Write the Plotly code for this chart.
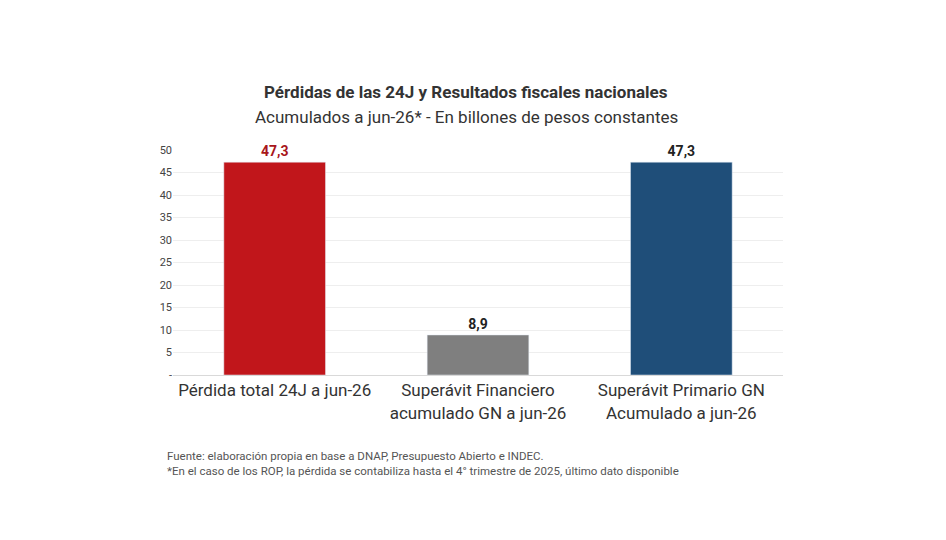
import plotly.graph_objects as go

categorias = ["Pérdida total 24J a jun-26",
              "Superávit Financiero<br>acumulado GN a jun-26",
              "Superávit Primario GN<br>Acumulado a jun-26"]
valores = [47.3, 8.9, 47.3]
etiquetas = ["<b>47,3</b>", "<b>8,9</b>", "<b>47,3</b>"]
colores = ["#C1161B", "#7F7F7F", "#1F4E79"]
colores_texto = ["#A8161B", "#222222", "#222222"]
tick_vals = [0, 5, 10, 15, 20, 25, 30, 35, 40, 45, 50]
tick_text = ["-", "5", "10", "15", "20", "25", "30", "35", "40", "45", "50"]

ML, MR, MT, MB = 165, 171, 142, 173
pw, ph = 946 - ML - MR, 540 - MT - MB


def px(x):
    return (x - ML) / pw


def py(y):
    return (540 - MB - y) / ph


fig = go.Figure()
fig.add_trace(go.Bar(
    x=categorias, y=valores, width=0.5,
    marker=dict(color=colores),
    text=etiquetas, textposition="outside", cliponaxis=False,
    textfont=dict(size=14, color=colores_texto, family="Roboto"),
))

fig.update_layout(
    width=946, height=540,
    paper_bgcolor="white", plot_bgcolor="white",
    margin=dict(l=ML, r=MR, t=MT, b=MB, autoexpand=False),
    font=dict(family="Roboto", color="#333333"),
    showlegend=False,
)
fig.add_annotation(text="<b>Pérdidas de las 24J y Resultados fiscales nacionales</b>",
                   x=px(458), y=py(72), xref="paper", yref="paper", showarrow=False,
                   font=dict(size=17, color="#333333"))
fig.add_annotation(text="Acumulados a jun-26* - En billones de pesos constantes",
                   x=px(458), y=py(97), xref="paper", yref="paper", showarrow=False,
                   font=dict(size=17, color="#333333"))
fig.add_annotation(text="Fuente: elaboración propia en base a DNAP, Presupuesto Abierto e INDEC.<br>"
                        "*En el caso de los ROP, la pérdida se contabiliza hasta el 4° trimestre de 2025, último dato disponible",
                   x=px(157), y=py(472), xref="paper", yref="paper", showarrow=False,
                   align="left", xanchor="left",
                   font=dict(size=11.5, color="#555555"))

fig.update_xaxes(tickfont=dict(size=17, color="#333333"), showline=True,
                 linecolor="#d9d9d9", ticks="", automargin=False)
fig.update_yaxes(range=[0, 50], tickvals=tick_vals, ticktext=tick_text,
                 gridcolor="#eeeeee", zeroline=False, automargin=False,
                 tickfont=dict(size=11, color="#444444"))

fig.write_html("out.html")
